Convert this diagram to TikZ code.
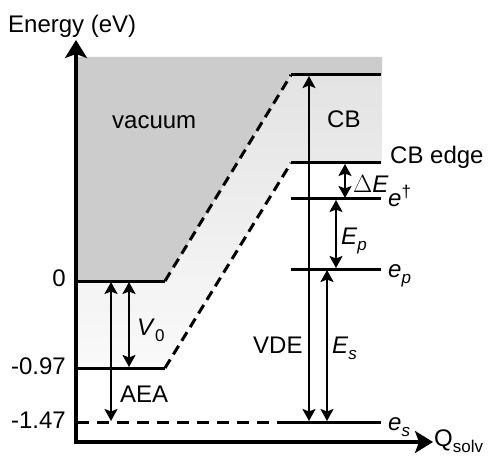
\documentclass[tikz,border=0pt]{standalone}
\usepackage{fontspec}
\setmainfont{Liberation Sans}
\usetikzlibrary{arrows.meta}
\newcommand\lsub[1]{\raisebox{-6pt}{\fontsize{17}{17}\selectfont #1}}
\newcommand\lsup[1]{\raisebox{9pt}{\fontsize{17}{17}\selectfont #1}}
\begin{document}
\begin{tikzpicture}[x=1pt,y=-1pt,
  lbl/.style={font=\fontsize{24}{28}\selectfont, inner sep=0pt, anchor=base west},
  lblr/.style={lbl, anchor=base east},
  lev/.style={line width=3pt},
  dbl/.style={line width=2.8pt, {Stealth[length=12pt,width=13pt,inset=2.5pt]}-{Stealth[length=12pt,width=13pt,inset=2.5pt]}},
  ax/.style={line width=3.3pt, line join=miter, {Stealth[length=18pt,width=22pt,inset=4pt]}-{Stealth[length=18pt,width=22pt,inset=4pt]}},
  dsh/.style={line width=3pt, dash pattern=on 12pt off 8pt},
  dshd/.style={line width=3pt, dash pattern=on 10pt off 6pt},
  ]
\useasboundingbox (0,0) rectangle (490,457);
% shaded regions
\shade[top color=gray!22, bottom color=gray!4]
  (291,75) -- (382,75) -- (382,163) -- (291,163) -- (165,368) -- (76,368) -- (76,281) -- (165,281) -- cycle;
\fill[gray!40] (76,57) -- (382,57) -- (382,75) -- (291,75) -- (165,281) -- (76,281) -- cycle;
% coordinates
\coordinate (O) at (76,442);
\coordinate (Ytop) at (76,40);
\coordinate (Xtip) at (433,442);
\coordinate (z0L) at (76,281);   \coordinate (z0R) at (165,281);
\coordinate (m97L) at (76,368);  \coordinate (m97R) at (165,368);
\coordinate (m147L) at (77,422); \coordinate (m147R) at (285,422);
\coordinate (cbtL) at (291,75);  \coordinate (cbtR) at (381,75);
\coordinate (cbeL) at (291,163); \coordinate (cbeR) at (381,163);
\coordinate (edL) at (291,199);  \coordinate (edR) at (381,199);
\coordinate (epL) at (291,269);  \coordinate (epR) at (381,269);
\coordinate (esR) at (381,422);
% level lines
\draw[lev] (z0L) -- (z0R);
\draw[lev] (m97L) -- (m97R);
\draw[dsh] (m147L) -- (m147R);
\draw[lev] (m147R) -- (esR);
\draw[lev] (cbtL) -- (cbtR);
\draw[lev] (cbeL) -- (cbeR);
\draw[lev] (edL) -- (edR);
\draw[lev] (epL) -- (epR);
\draw[dshd] (z0R) -- (cbtL);
\draw[dshd] (m97R) -- (cbeL);
% axes
\draw[ax] (Ytop) -- (O) -- (Xtip);
% arrows
\coordinate (aeaT) at (111,282); \coordinate (aeaB) at (111,421);
\coordinate (v0T) at (129,282);  \coordinate (v0B) at (129,367);
\coordinate (vdeT) at (309,76);  \coordinate (vdeB) at (309,421);
\coordinate (esT) at (327,270);  \coordinate (esB) at (327,421);
\coordinate (epT) at (336,200);  \coordinate (epB) at (336,268);
\coordinate (deT) at (345,164);  \coordinate (deB) at (345,198);
\draw[dbl] (aeaT) -- (aeaB);
\draw[dbl] (v0T) -- (v0B);
\draw[dbl] (vdeT) -- (vdeB);
\draw[dbl] (esT) -- (esB);
\draw[dbl] (epT) -- (epB);
\draw[dbl] (deT) -- (deB);
% labels
\node[lbl] (energy) at (8,33) {Energy (eV)};
\node[lbl] (vac) at (112,129) {vacuum};
\node[lbl] (cb) at (327,128) {CB};
\node[lbl] (cbedge) at (390,164) {CB edge};
\node[lbl] (dE) at (353,193) {$\Delta$\textit{E}};
\node[lbl] (edag) at (388,207) {\textit{e}\lsup{†}};
\node[lbl] (Ep) at (341,244) {\textit{E}\lsub{\textit{p}}};
\node[lbl] (ep) at (388,277) {\textit{e}\lsub{\textit{p}}};
\node[lbl] (vde) at (253,353) {VDE};
\node[lbl] (Es) at (332,353) {\textit{E}\lsub{\textit{s}}};
\node[lbl] (es) at (388,430) {\textit{e}\lsub{\textit{s}}};
\node[lbl] (Q) at (434,446) {Q\lsub{solv}};
\node[lbl] (V0) at (137,335) {\textit{V}\lsub{0}};
\node[lbl] (aea) at (120,402) {AEA};
\node[lblr] (t0) at (66,287) {0};
\node[lblr] (t97) at (66,374) {-0.97};
\node[lblr] (t147) at (66,428) {-1.47};
\end{tikzpicture}
\end{document}
